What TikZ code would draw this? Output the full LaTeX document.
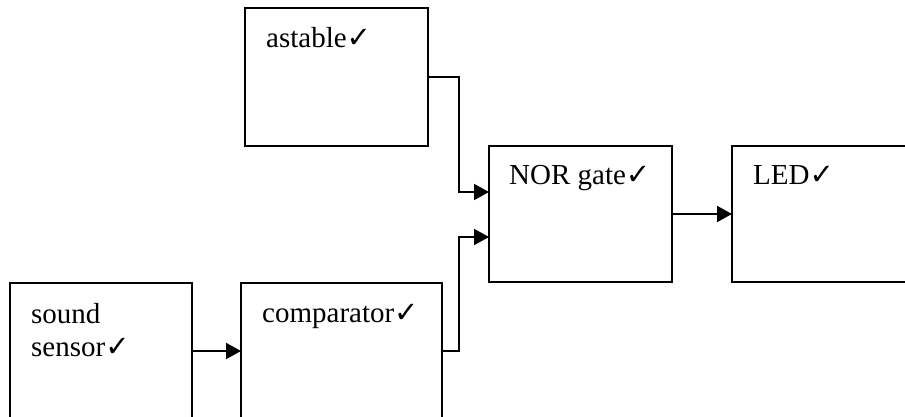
\documentclass[tikz,border=0pt]{standalone}
\usepackage{fontspec}
\setmainfont{Liberation Serif}
\newfontfamily\chkfont{DejaVu Sans Bold}
\usetikzlibrary{arrows.meta}
\newcommand{\chk}{{\chkfont\fontsize{29}{29}\selectfont ✓}}
\tikzset{
  blk/.style={draw, line width=2pt, anchor=north west, inner sep=0pt, outer sep=0pt},
  lbl/.style={anchor=base west, inner sep=0pt, font=\fontsize{29}{33}\selectfont, align=left},
  arr/.style={line width=2pt, -{Triangle[length=15pt,width=16pt]}},
  wire/.style={line width=2pt}
}
\begin{document}
\begin{tikzpicture}[x=1pt,y=-1pt]
\useasboundingbox (0,0) rectangle (905,416);
\clip (0,0) rectangle (905,416);
\node[blk, minimum width=183pt, minimum height=138pt] (astable) at (245,8) {};
\node[blk, minimum width=183pt, minimum height=136pt] (nor) at (489,146) {};
\node[blk, minimum width=190pt, minimum height=136pt] (led) at (732,146) {};
\node[blk, minimum width=182pt, minimum height=136pt] (sound) at (10,283) {};
\node[blk, minimum width=201pt, minimum height=136pt] (comp) at (241,283) {};
\node[lbl] (tastable) at (266,47) {astable\chk};
\node[lbl] (tnor) at (509,184) {NOR gate\chk};
\node[lbl] (tled) at (753,184) {LED\chk};
\node[lbl] (tsound) at (31,356) {sound\\sensor\chk};
\node[lbl] (tcomp) at (262,322) {comparator\chk};
\draw[arr] (astable.east) -- ++(31,0) |- ([yshift=22pt]nor.west);
\draw[arr] (comp.east) -- ++(17,0) |- ([yshift=-23pt]nor.west);
\draw[arr] (sound.east) -- (comp.west);
\draw[arr] (nor.east) -- (led.west);
\end{tikzpicture}
\end{document}
